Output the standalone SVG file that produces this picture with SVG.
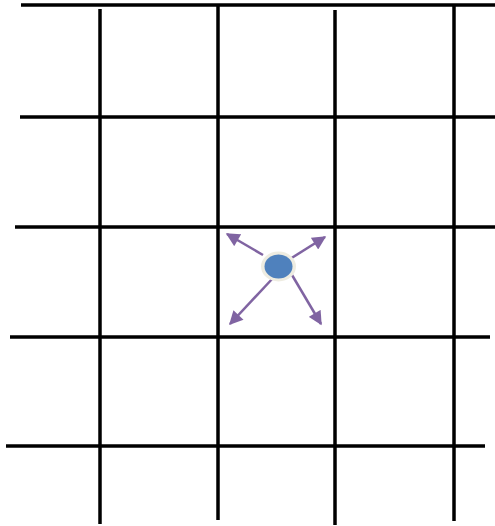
<svg xmlns="http://www.w3.org/2000/svg" width="495" height="526" viewBox="0 0 495 526">
<style>
.grid line{stroke:#000;stroke-width:3.5;}
.arr{stroke:#8064A2;stroke-width:2.5;fill:none;marker-end:url(#ah);}
</style>
<defs>
<marker id="ah" viewBox="0 0 10 10" refX="9" refY="5" markerWidth="6" markerHeight="5.5" orient="auto" markerUnits="strokeWidth">
<path d="M0,0 L10,5 L0,10 z" fill="#8064A2"/>
</marker>
</defs>
<rect width="495" height="526" fill="#fff"/>
<g id="grid" class="grid">
<line x1="21" y1="5" x2="495" y2="5"/>
<line x1="20" y1="117" x2="495" y2="117"/>
<line x1="15" y1="227" x2="495" y2="227"/>
<line x1="10" y1="337" x2="490" y2="337"/>
<line x1="6" y1="446" x2="485" y2="446"/>
<line x1="100" y1="9" x2="100" y2="524"/>
<line x1="218" y1="6" x2="218" y2="520"/>
<line x1="335" y1="10" x2="335" y2="525"/>
<line x1="454" y1="6" x2="454" y2="521"/>
</g>
<g id="connectors">
<line class="arr" x1="263" y1="255" x2="227" y2="234"/>
<line class="arr" x1="290" y1="259" x2="325" y2="237"/>
<line class="arr" x1="273" y1="278" x2="230" y2="324"/>
<line class="arr" x1="292" y1="275" x2="321" y2="324"/>
</g>
<g id="particle">
<ellipse cx="278.5" cy="266.5" rx="17.5" ry="15" fill="#EEECE1"/>
<ellipse cx="278.5" cy="266.5" rx="14" ry="12" fill="#4F81BD"/>
</g>
</svg>
